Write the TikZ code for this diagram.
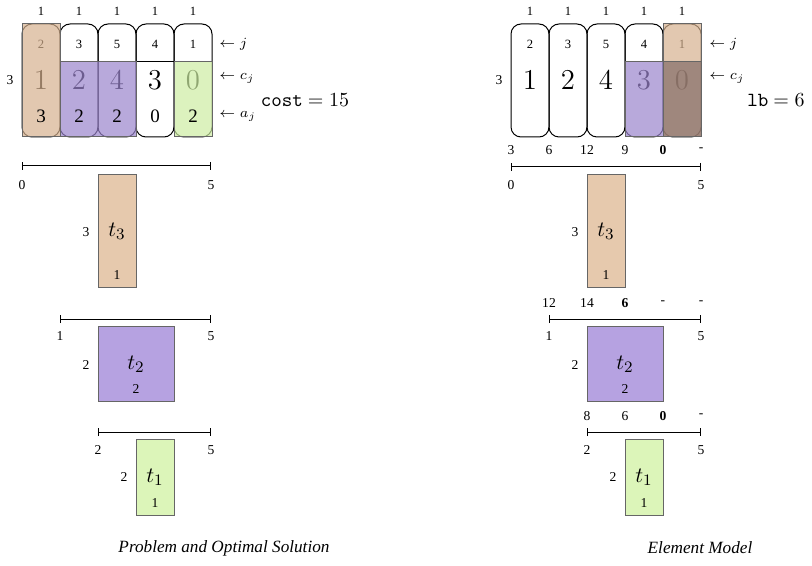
\documentclass[tikz,border=0pt]{standalone}
\usepackage{fontspec}
\setmainfont{Liberation Serif}
\usetikzlibrary{arrows.meta}

% task colours (opaque boxes)
\definecolor{tanbox}{HTML}{E6C9AD}
\definecolor{purbox}{HTML}{B6A2E1}
\definecolor{grnbox}{HTML}{DCF5B9}
% overlay colours (used with fill opacity)
\definecolor{tanfill}{HTML}{D5B08E}
\definecolor{purfill}{HTML}{9A84CC}
\definecolor{grnfill}{HTML}{CDEDA2}
\definecolor{brnfill}{HTML}{957A6F}

\begin{document}
\begin{tikzpicture}[x=0.5pt,y=-0.5pt,
  col/.style={draw, line width=0.5pt, rounded corners=5pt, minimum width=19pt,
    minimum height=56.5pt, inner sep=0pt},
  tiny/.style={inner sep=0pt, font=\fontsize{6.3}{7}\selectfont},
  small/.style={inner sep=0pt, font=\fontsize{6.8}{8}\selectfont},
  ajnum/.style={inner sep=0pt, font=\fontsize{9.5}{11}\selectfont},
  bignum/.style={inner sep=0pt, font=\fontsize{14.4}{16}\selectfont},
  rowlbl/.style={inner sep=0pt, anchor=west, font=\fontsize{7}{8}\selectfont},
  bound/.style={inner sep=0pt, font=\fontsize{10}{12}\selectfont},
  fillbox/.style={fill opacity=0.7, draw=black!60, line width=0.5pt},
  task/.style={draw=black!60, line width=0.5pt, inner sep=0pt},
  tlabel/.style={inner sep=0pt, font=\fontsize{11}{13}\selectfont},
  timeline/.style={line width=0.5pt, {Bar[width=4pt]}-{Bar[width=4pt]}},
  caption/.style={inner sep=0pt, font=\fontsize{8.6}{10}\selectfont\itshape}]
\useasboundingbox (0,0) rectangle (812,566);

% ---------------- left panel: problem and optimal solution ----------------
\foreach \i/\jj/\cj in {1/2/1, 2/3/2, 3/5/4, 4/4/3, 5/1/0} {
  \node[col] (L\i) at ({3+38*\i},80.5) {};
  \node[tiny] (Lw\i) at ({3+38*\i},11) {1};
  \node[tiny] (Lj\i) at ({3+38*\i},44) {\jj};
  \node[bignum] (Lc\i) at ({3+38*\i},80) {$\cj$};
}
\node[small] (Lh) at (10,80) {3};
\draw[line width=0.5pt] (60,62) -- (212,62);

\path[fillbox, fill=tanfill] (22,24) rectangle (60,137);
\path[fillbox, fill=purfill] (60,62) rectangle (136,137);
\path[fillbox, fill=grnfill] (174,62) rectangle (212,137);

\foreach \i/\aj in {1/3, 2/2, 3/2, 4/0, 5/2}
  \node[ajnum] (La\i) at ({3+38*\i},116) {\aj};

\node[rowlbl] (Lrj) at (219,44) {$\leftarrow j$};
\node[rowlbl] (Lrc) at (219,78) {$\leftarrow c_j$};
\node[rowlbl] (Lra) at (219,116) {$\leftarrow a_j$};
\node[bound] (cost) at (305,100) {\texttt{cost} $= 15$};

% time windows and tasks
\coordinate (La0) at (22,166);  \coordinate (La5) at (211,166);
\coordinate (Lb1) at (60,319);  \coordinate (Lb5) at (211,319);
\coordinate (Lc2) at (98,432);  \coordinate (Lc5) at (211,432);
\draw[timeline] (La0) -- (La5);
\draw[timeline] (Lb1) -- (Lb5);
\draw[timeline] (Lc2) -- (Lc5);
\node[small] (La0l) at (22,185) {0};  \node[small] (La5l) at (211,185) {5};
\node[small] (Lb1l) at (60,336) {1};  \node[small] (Lb5l) at (211,336) {5};
\node[small] (Lc2l) at (98,450) {2};  \node[small] (Lc5l) at (211,450) {5};

\node[task, fill=tanbox, minimum width=19pt, minimum height=56.5pt] (Lt3) at (117,231.5) {};
\node[tlabel] at (Lt3.center) {$t_3$};
\node[small] (Lt3w) at (117,275) {1};
\node[small] (Lt3h) at (86,232) {3};

\node[task, fill=purbox, minimum width=38pt, minimum height=37.5pt] (Lt2) at (136,363.5) {};
\node[tlabel] at (136,364) {$t_2$};
\node[small] (Lt2w) at (136,389) {2};
\node[small] (Lt2h) at (86,365) {2};

\node[task, fill=grnbox, minimum width=19pt, minimum height=38pt] (Lt1) at (155,477) {};
\node[tlabel] at (155,477) {$t_1$};
\node[small] (Lt1w) at (155,503) {1};
\node[small] (Lt1h) at (124,477) {2};

\node[caption] (capL) at (224,548) {Problem and Optimal Solution};

% ---------------- right panel: element model ----------------
\foreach \i/\jj/\cj in {1/2/1, 2/3/2, 3/5/4, 4/4/3, 5/1/0} {
  \node[col] (R\i) at ({492+38*\i},80.5) {};
  \node[tiny] (Rw\i) at ({492+38*\i},11) {1};
  \node[tiny] (Rj\i) at ({492+38*\i},44) {\jj};
  \node[bignum] (Rc\i) at ({492+38*\i},80) {$\cj$};
}
\node[small] (Rh) at (499,80) {3};

\path[fillbox, fill=purfill] (625,62) rectangle (663,137);
\path[fillbox, fill=tanfill] (663,24) rectangle (701,62);
\path[fillbox, fill=brnfill, fill opacity=0.9] (663,62) rectangle (701,137);

\node[rowlbl] (Rrj) at (709,44) {$\leftarrow j$};
\node[rowlbl] (Rrc) at (709,78) {$\leftarrow c_j$};
\node[bound] (lb) at (776,100) {\texttt{lb} $= 6$};

% costs above each time window
\foreach \k/\v in {0/3, 1/6, 2/12, 3/9, 4/\textbf{0}, 5/-}
  \node[small] (Ra\k v) at ({511+38*\k},150) {\v};
\foreach \k/\v in {0/12, 1/14, 2/\textbf{6}, 3/-, 4/-}
  \node[small] (Rb\k v) at ({549+38*\k},303) {\v};
\foreach \k/\v in {0/8, 1/6, 2/\textbf{0}, 3/-}
  \node[small] (Rc\k v) at ({587+38*\k},416) {\v};

\coordinate (Ra0) at (511,167);  \coordinate (Ra5) at (701,167);
\coordinate (Rb1) at (549,319);  \coordinate (Rb5) at (701,319);
\coordinate (Rc2) at (587,432);  \coordinate (Rc5) at (701,432);
\draw[timeline] (Ra0) -- (Ra5);
\draw[timeline] (Rb1) -- (Rb5);
\draw[timeline] (Rc2) -- (Rc5);
\node[small] (Ra0l) at (511,185) {0};  \node[small] (Ra5l) at (701,185) {5};
\node[small] (Rb1l) at (549,336) {1};  \node[small] (Rb5l) at (701,336) {5};
\node[small] (Rc2l) at (587,450) {2};  \node[small] (Rc5l) at (701,450) {5};

\node[task, fill=tanbox, minimum width=19pt, minimum height=56.5pt] (Rt3) at (606,231.5) {};
\node[tlabel] at (Rt3.center) {$t_3$};
\node[small] (Rt3w) at (606,275) {1};
\node[small] (Rt3h) at (575,232) {3};

\node[task, fill=purbox, minimum width=38pt, minimum height=37.5pt] (Rt2) at (625,363.5) {};
\node[tlabel] at (625,364) {$t_2$};
\node[small] (Rt2w) at (625,389) {2};
\node[small] (Rt2h) at (575,365) {2};

\node[task, fill=grnbox, minimum width=19pt, minimum height=38pt] (Rt1) at (644,477) {};
\node[tlabel] at (644,477) {$t_1$};
\node[small] (Rt1w) at (644,503) {1};
\node[small] (Rt1h) at (613,477) {2};

\node[caption] (capR) at (700,548) {Element Model};
\end{tikzpicture}
\end{document}
